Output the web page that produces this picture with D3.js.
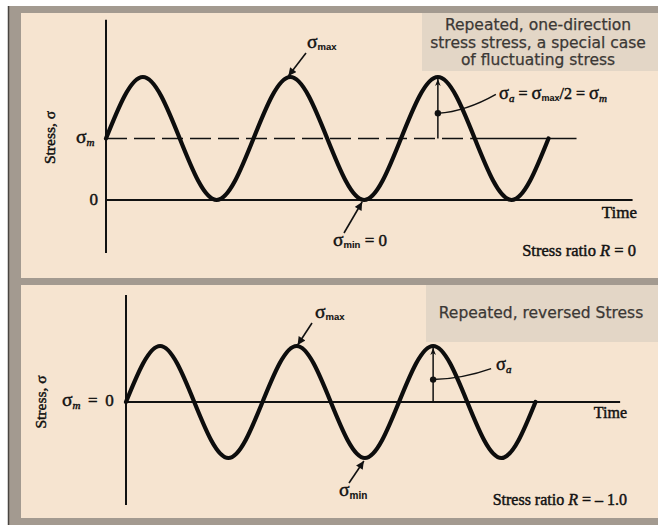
<!DOCTYPE html>
<html>
<head>
<meta charset="utf-8">
<script src="https://cdn.jsdelivr.net/npm/d3@7"></script>
<style>
  html, body { margin: 0; padding: 0; background: #ffffff; }
  svg { display: block; }
  .serif { font-family: "Liberation Serif", "DejaVu Serif", serif; fill: #111; stroke: #111; stroke-width: 0.45px; }
  .box-text { font-family: "DejaVu Sans", Verdana, sans-serif; fill: #3b3835; stroke: #3b3835; stroke-width: 0.25px; }
  .sub { font-family: "Liberation Sans", Arial, sans-serif; font-weight: bold; stroke-width: 0.1px; }
</style>
</head>
<body>
<script>
// Time instants, in load cycles, at each quarter cycle
const times = [0, 0.25, 0.5, 0.75, 1, 1.25, 1.5, 1.75, 2, 2.25, 2.5, 2.75, 3];
// Repeated, one-direction stress (sigma_m = 1, sigma_max = 2, sigma_min = 0)
const oneDirectionStress = [1, 2, 1, 0, 1, 2, 1, 0, 1, 2, 1, 0, 1];
// Repeated, reversed stress (sigma_m = 0, sigma_max = 1, sigma_min = -1)
const reversedStress = [0, 1, 0, -1, 0, 1, 0, -1, 0, 1, 0, -1, 0];
// Caption box texts
const oneDirectionCaption = ["Repeated, one-direction", "stress stress, a special case", "of fluctuating stress"];
const reversedCaption = ["Repeated, reversed Stress"];
// Stress ratio labels
const ratioOneDirection = "0";
const ratioReversed = "\u2013 1.0";

const W = 658, H = 525;
const svg = d3.select("body").append("svg").attr("width", W).attr("height", H);

const defs = svg.append("defs");
defs.append("marker")
  .attr("id", "head").attr("viewBox", "0 0 10 10")
  .attr("markerUnits", "userSpaceOnUse")
  .attr("markerWidth", 9).attr("markerHeight", 8)
  .attr("refX", 10).attr("refY", 5).attr("orient", "auto")
  .append("path").attr("d", "M0,0 L10,5 L0,10 Z").attr("fill", "#111");
defs.append("marker")
  .attr("id", "thinHead").attr("viewBox", "0 0 10 10")
  .attr("markerUnits", "userSpaceOnUse")
  .attr("markerWidth", 8).attr("markerHeight", 7)
  .attr("refX", 10).attr("refY", 5).attr("orient", "auto")
  .append("path").attr("d", "M0,1 L10,5 L0,9 L3,5 Z").attr("fill", "#111");

// Frame
svg.append("rect").attr("x", 8).attr("y", 6).attr("width", W - 8).attr("height", H - 6).attr("fill", "#a39a90");
svg.append("line").attr("x1", 8.5).attr("x2", 8.5).attr("y1", 6).attr("y2", H).attr("stroke", "#4a4541").attr("stroke-width", 1.5);
svg.append("rect").attr("x", 21).attr("y", 13).attr("width", W - 21).attr("height", 265).attr("fill", "#f6e4d0");
svg.append("rect").attr("x", 21).attr("y", 285).attr("width", W - 21).attr("height", 233).attr("fill", "#f6e4d0");

// Caption boxes
function caption(x, y, w, h, lines, cx, firstBase, step) {
  svg.append("rect").attr("x", x).attr("y", y).attr("width", w).attr("height", h).attr("fill", "#e3d6c6");
  svg.selectAll(null).data(lines).enter().append("text")
    .attr("class", "box-text")
    .attr("x", cx).attr("y", (d, i) => firstBase + i * step)
    .attr("text-anchor", "middle").attr("font-size", 15.5)
    .text(d => d);
}
caption(422, 13, W - 422, 58, oneDirectionCaption, 538, 30, 17.5);
caption(426, 285, W - 426, 57, reversedCaption, 541, 318, 18);

// Sigma label with subscript
function sigma(g, x, y, sub, opts = {}) {
  const t = g.append("text").attr("class", "serif").attr("x", x).attr("y", y)
    .attr("font-size", opts.size || 17).attr("text-anchor", opts.anchor || "start");
  t.append("tspan").attr("font-size", (opts.size || 17) + 2.5).text("\u03c3");
  const s = t.append("tspan").attr("dy", opts.subDy || 3)
    .attr("font-size", opts.subSize || 10);
  if (opts.italicSub) {
    s.attr("font-style", "italic").attr("font-family", "Liberation Serif, serif");
  } else {
    s.attr("class", "sub");
  }
  s.text(sub);
  if (opts.rest) {
    t.append("tspan").attr("dy", -(opts.subDy || 3)).text(opts.rest);
  }
  return t;
}

function wave(g, x, y, values) {
  const line = d3.line().x((d, i) => x(times[i])).y(d => y(d)).curve(d3.curveNatural);
  g.append("path").datum(values).attr("d", line)
    .attr("fill", "none").attr("stroke", "#0d0d0d").attr("stroke-width", 4.2)
    .attr("stroke-linejoin", "round").attr("stroke-linecap", "round");
}

// ---------- Repeated, one-direction stress ----------
{
  const g = svg.append("g");
  const x = d3.scaleLinear().domain([0, 3]).range([106, 106 + 3 * 147.5]);
  const y = d3.scaleLinear().domain([0, 2]).range([200, 77]);

  // axes
  g.append("line").attr("x1", x(0)).attr("x2", x(0)).attr("y1", y(2.93)).attr("y2", y(-0.86))
    .attr("stroke", "#111").attr("stroke-width", 2);
  g.append("line").attr("x1", x(0)).attr("x2", x(3.57)).attr("y1", y(0)).attr("y2", y(0))
    .attr("stroke", "#111").attr("stroke-width", 2);
  // mean stress line: dashed, then solid
  g.append("line").attr("x1", x(0)).attr("x2", x(2.47)).attr("y1", y(1)).attr("y2", y(1))
    .attr("stroke", "#111").attr("stroke-width", 1.6).attr("stroke-dasharray", "21,7");
  g.append("line").attr("x1", x(2.47)).attr("x2", x(3.19)).attr("y1", y(1)).attr("y2", y(1))
    .attr("stroke", "#111").attr("stroke-width", 1.6);

  wave(g, x, y, oneDirectionStress);

  // y labels
  g.append("text").attr("class", "serif").attr("font-size", 15.5)
    .attr("transform", `translate(55,${y(1) - 1}) rotate(-90)`).attr("text-anchor", "middle")
    .text("Stress, \u03c3");
  sigma(g, 76, y(1) + 4, "m", { italicSub: true, subSize: 11, subDy: 3 });
  g.append("text").attr("class", "serif").attr("font-size", 17).attr("x", 98).attr("y", y(0) + 5)
    .attr("text-anchor", "end").text("0");
  g.append("text").attr("class", "serif").attr("font-size", 17).attr("x", 637).attr("y", 218)
    .attr("text-anchor", "end").text("Time");

  // sigma max
  sigma(g, 307, 48, "max", { subSize: 9.5, subDy: 2 });
  g.append("line").attr("x1", 306).attr("y1", 53).attr("x2", x(1.25) - 2).attr("y2", y(2) - 1)
    .attr("stroke", "#111").attr("stroke-width", 1.6).attr("marker-end", "url(#head)");
  // sigma min = 0
  sigma(g, 333, 246, "min", { subSize: 9.5, subDy: 2, rest: " = 0" });
  g.append("line").attr("x1", 344).attr("y1", 233).attr("x2", x(1.75) - 2).attr("y2", y(0) + 2)
    .attr("stroke", "#111").attr("stroke-width", 1.6).attr("marker-end", "url(#head)");

  // amplitude arrow
  const xa = x(2.25);
  g.append("line").attr("x1", xa).attr("x2", xa).attr("y1", y(1)).attr("y2", y(2) + 2)
    .attr("stroke", "#111").attr("stroke-width", 1.5).attr("marker-end", "url(#thinHead)");
  const dy = y(1.41);
  g.append("circle").attr("cx", xa).attr("cy", dy).attr("r", 3.2).attr("fill", "#111");
  g.append("path").attr("d", `M${xa},${dy} Q${xa + 28},${dy - 2} ${xa + 58},${dy - 19}`)
    .attr("fill", "none").attr("stroke", "#111").attr("stroke-width", 1.5);
  const lab = g.append("text").attr("class", "serif").attr("x", 499).attr("y", 99).attr("font-size", 16);
  lab.append("tspan").attr("font-size", 18.5).text("\u03c3");
  lab.append("tspan").attr("dy", 3).attr("font-size", 11).attr("font-style", "italic").text("a");
  lab.append("tspan").attr("dy", -3).text(" = ");
  lab.append("tspan").attr("font-size", 18.5).text("\u03c3");
  lab.append("tspan").attr("dy", 2).attr("font-size", 9).attr("class", "sub").text("max");
  lab.append("tspan").attr("dy", -2).text("/2 = ");
  lab.append("tspan").attr("font-size", 18.5).text("\u03c3");
  lab.append("tspan").attr("dy", 3).attr("font-size", 11).attr("font-style", "italic").text("m");

  // stress ratio
  const r = g.append("text").attr("class", "serif").attr("x", 636).attr("y", 256)
    .attr("font-size", 16.5).attr("text-anchor", "end");
  r.append("tspan").text("Stress ratio ");
  r.append("tspan").attr("font-style", "italic").text("R");
  r.append("tspan").text(" = " + ratioOneDirection);
}

// ---------- Repeated, reversed stress ----------
{
  const g = svg.append("g");
  const x = d3.scaleLinear().domain([0, 3]).range([126, 126 + 3 * 136.5]);
  const y = d3.scaleLinear().domain([-1, 1]).range([458, 346]);

  g.append("line").attr("x1", x(0)).attr("x2", x(0)).attr("y1", y(1.91)).attr("y2", y(-1.84))
    .attr("stroke", "#111").attr("stroke-width", 2);
  g.append("line").attr("x1", x(0)).attr("x2", x(3.62)).attr("y1", y(0)).attr("y2", y(0))
    .attr("stroke", "#111").attr("stroke-width", 2);

  wave(g, x, y, reversedStress);

  g.append("text").attr("class", "serif").attr("font-size", 15.5)
    .attr("transform", `translate(46,${y(0)}) rotate(-90)`).attr("text-anchor", "middle")
    .text("Stress, \u03c3");
  sigma(g, 62, y(0) + 4, "m", { italicSub: true, subSize: 11, subDy: 3, rest: " \u2009=\u2009 0" });
  g.append("text").attr("class", "serif").attr("font-size", 16).attr("x", 627).attr("y", 418)
    .attr("text-anchor", "end").text("Time");

  sigma(g, 315, 318, "max", { subSize: 9.5, subDy: 2 });
  g.append("line").attr("x1", 312).attr("y1", 323).attr("x2", x(1.25) + 1).attr("y2", y(1) - 1)
    .attr("stroke", "#111").attr("stroke-width", 1.6).attr("marker-end", "url(#head)");
  sigma(g, 339, 496, "min", { subSize: 10, subDy: 3 });
  g.append("line").attr("x1", 349).attr("y1", 483).attr("x2", x(1.75) - 1).attr("y2", y(-1) + 3)
    .attr("stroke", "#111").attr("stroke-width", 1.6).attr("marker-end", "url(#head)");

  const xa = x(2.25);
  g.append("line").attr("x1", xa).attr("x2", xa).attr("y1", y(0)).attr("y2", y(1) + 2)
    .attr("stroke", "#111").attr("stroke-width", 1.5).attr("marker-end", "url(#thinHead)");
  const dy = y(0.4);
  g.append("circle").attr("cx", xa).attr("cy", dy).attr("r", 3.2).attr("fill", "#111");
  g.append("path").attr("d", `M${xa},${dy} Q${xa + 30},${dy - 1} ${xa + 58},${dy - 11}`)
    .attr("fill", "none").attr("stroke", "#111").attr("stroke-width", 1.5);
  sigma(g, 496, 370, "a", { italicSub: true, subSize: 11, subDy: 3, size: 16 });

  const r = g.append("text").attr("class", "serif").attr("x", 627).attr("y", 505)
    .attr("font-size", 16).attr("text-anchor", "end");
  r.append("tspan").text("Stress ratio ");
  r.append("tspan").attr("font-style", "italic").text("R");
  r.append("tspan").text(" = " + ratioReversed);
}
</script>
</body>
</html>
